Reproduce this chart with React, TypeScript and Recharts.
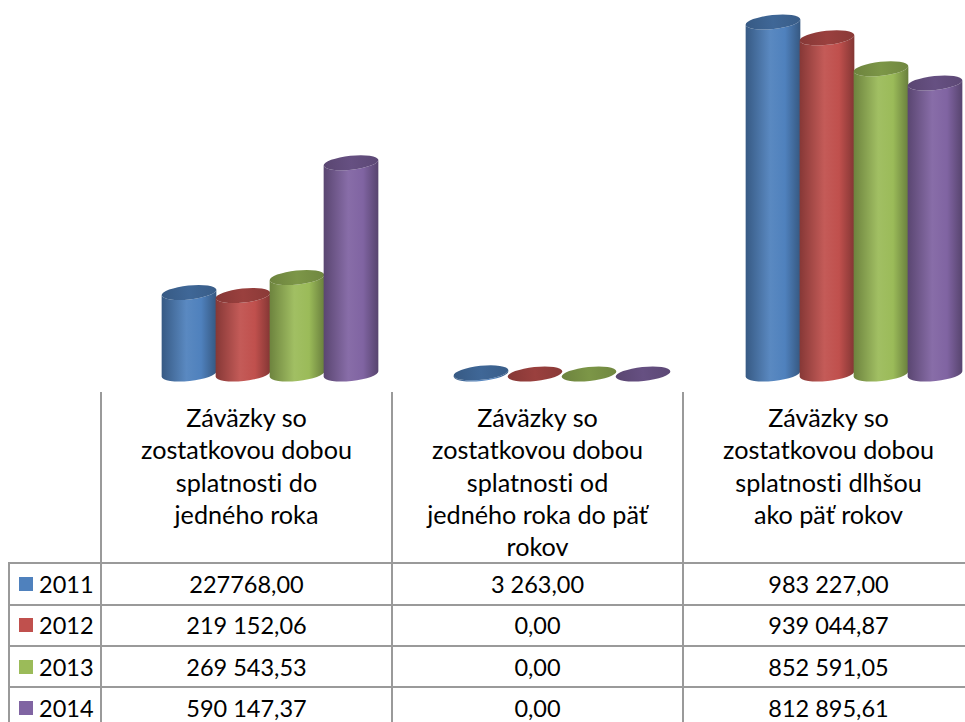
import { Bar, BarChart, XAxis, YAxis } from 'recharts'

const categories = [
  'Záväzky so\nzostatkovou dobou\nsplatnosti do\njedného roka',
  'Záväzky so\nzostatkovou dobou\nsplatnosti od\njedného roka do päť\nrokov',
  'Záväzky so\nzostatkovou dobou\nsplatnosti dlhšou\nako päť rokov',
]
const years = ['2011', '2012', '2013', '2014']

// table text exactly as printed; bar heights are parsed from it
const values2011 = ['227768,00', '3 263,00', '983 227,00']
const values2012 = ['219 152,06', '0,00', '939 044,87']
const values2013 = ['269 543,53', '0,00', '852 591,05']
const values2014 = ['590 147,37', '0,00', '812 895,61']
const tableRows = [values2011, values2012, values2013, values2014]

const colors = ['#4F81BD', '#C0504D', '#9BBB59', '#8064A2']

const parse = (s: string) => Number(s.replace(/\s/g, '').replace(',', '.'))

const data = categories.map((name, i) => ({
  name,
  y2011: parse(values2011[i]),
  y2012: parse(values2012[i]),
  y2013: parse(values2013[i]),
  y2014: parse(values2014[i]),
}))

function shade(hex: string, f: number) {
  const n = parseInt(hex.slice(1), 16)
  const ch = [(n >> 16) & 255, (n >> 8) & 255, n & 255].map((c) =>
    Math.round(f < 1 ? c * f : c + (255 - c) * (f - 1)),
  )
  return '#' + ch.map((c) => c.toString(16).padStart(2, '0')).join('')
}

function Cylinder(props: any) {
  const { x, y, width, height, idx } = props
  const rx = width / 2 + 0.5
  const ry = 7
  const rot = -6
  const t = (rot * Math.PI) / 180
  const cx = x + width / 2
  const dx = rx * Math.cos(t)
  const dy = rx * Math.sin(t)
  const top = y
  const bot = y + height
  const d = `M ${cx - dx} ${top - dy} L ${cx - dx} ${bot - dy} A ${rx} ${ry} ${rot} 0 0 ${cx + dx} ${bot + dy} L ${cx + dx} ${top + dy} A ${rx} ${ry} ${rot} 0 1 ${cx - dx} ${top - dy} Z`
  return (
    <g>
      <path d={d} fill={`url(#cyl-${idx})`} />
      <ellipse cx={cx} cy={top} rx={rx} ry={ry} transform={`rotate(${rot} ${cx} ${top})`} fill={`url(#cap-${idx})`} />
    </g>
  )
}

const colX = [9, 101, 392, 683, 974]
const rowY = [392, 563, 604.5, 646, 687, 728]
const line = '#9a9a9a'

export default function App() {
  return (
    <div style={{ position: 'relative', width: 965, height: 722, overflow: 'hidden', background: '#fff', fontFamily: 'Lato, "Open Sans", sans-serif', fontVariantLigatures: 'none', color: '#000' }}>
      <style>{'body{margin:0;overflow:hidden}'}</style>
      <div style={{ position: 'absolute', left: 0, top: 0 }}>
        <BarChart width={1000} height={392} data={data} margin={{ top: 16, right: 0, bottom: 18, left: 124 }} barCategoryGap={38} barGap={0}>
          <defs>
            {colors.map((c, i) => (
              <linearGradient key={`g${i}`} id={`cyl-${i}`} x1="0" y1="0" x2="1" y2="0">
                <stop offset="0%" stopColor={shade(c, 0.7)} />
                <stop offset="45%" stopColor={shade(c, 1.06)} />
                <stop offset="72%" stopColor={c} />
                <stop offset="100%" stopColor={shade(c, 0.68)} />
              </linearGradient>
            ))}
            {colors.map((c, i) => (
              <linearGradient key={`c${i}`} id={`cap-${i}`} x1="0" y1="0" x2="1" y2="0">
                <stop offset="0%" stopColor={shade(c, 0.7)} />
                <stop offset="50%" stopColor={shade(c, 0.8)} />
                <stop offset="100%" stopColor={shade(c, 0.72)} />
              </linearGradient>
            ))}
          </defs>
          <XAxis dataKey="name" hide />
          <YAxis hide domain={[0, 1000000]} />
          {years.map((yr, i) => (
            <Bar
              key={yr}
              dataKey={`y${yr}`}
              name={yr}
              isAnimationActive={false}
              shape={(p: any) => <Cylinder {...p} idx={i} />}
            />
          ))}
        </BarChart>
      </div>

      {/* data table */}
      {colX.slice(1).map((x) => (
        <div key={`v${x}`} style={{ position: 'absolute', left: x - 1, top: rowY[0], width: 2, height: rowY[5] - rowY[0], background: line }} />
      ))}
      <div style={{ position: 'absolute', left: colX[0] - 1, top: rowY[1], width: 2, height: rowY[5] - rowY[1], background: line }} />
      {rowY.slice(1).map((y) => (
        <div key={`h${y}`} style={{ position: 'absolute', left: colX[0] - 1, top: y - 1, width: colX[4] - colX[0] + 2, height: 2, background: line }} />
      ))}

      {categories.map((c, i) => (
        <div
          key={c}
          style={{ position: 'absolute', left: colX[i + 1], width: colX[i + 2] - colX[i + 1], top: 401, textAlign: 'center', whiteSpace: 'pre-line', fontSize: 25.2, lineHeight: '32.3px' }}
        >
          {c}
        </div>
      ))}

      {tableRows.map((row, r) => (
        <div key={years[r]}>
          <div style={{ position: 'absolute', left: colX[0], width: colX[1] - colX[0], top: rowY[r + 1], height: rowY[r + 2] - rowY[r + 1], display: 'flex', alignItems: 'center', fontSize: 23.5 }}>
            <span style={{ display: 'inline-block', width: 14, height: 14, background: colors[r], marginLeft: 10, marginRight: 6 }} />
            <span>{years[r]}</span>
          </div>
          {row.map((v, i) => (
            <div
              key={i}
              style={{ position: 'absolute', left: colX[i + 1], width: colX[i + 2] - colX[i + 1], top: rowY[r + 1], height: rowY[r + 2] - rowY[r + 1], display: 'flex', alignItems: 'center', justifyContent: 'center', fontSize: 23.5 }}
            >
              {v}
            </div>
          ))}
        </div>
      ))}
    </div>
  )
}
